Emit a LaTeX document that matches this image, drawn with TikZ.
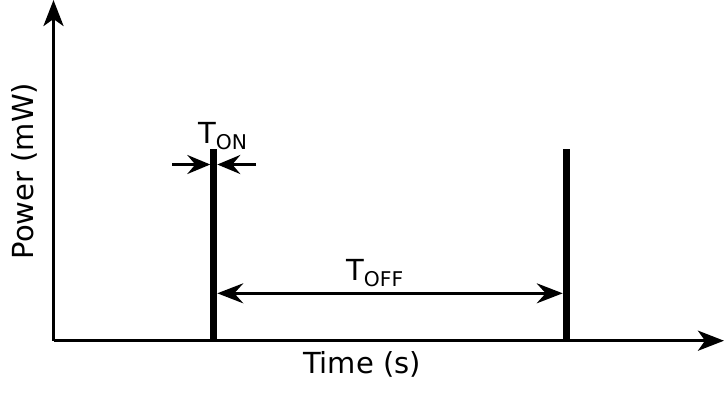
\documentclass[tikz,border=0pt]{standalone}
\usepackage{fontspec}
\setmainfont{DejaVu Sans}
\usetikzlibrary{arrows.meta}
\begin{document}
\begin{tikzpicture}[x=1bp,y=-1bp,
  axis/.style={line width=3.4bp,-{Stealth[length=26bp,width=20bp,inset=7bp]}},
  pulse/.style={line width=7bp},
  dimarrow/.style={line width=3bp,-{Stealth[length=23bp,width=19bp,inset=8bp]}},
  dimboth/.style={line width=2.8bp,{Stealth[length=26bp,width=20bp,inset=9bp]}-{Stealth[length=26bp,width=20bp,inset=9bp]}},
  lbl/.style={inner sep=0pt,font=\fontsize{29bp}{34bp}\selectfont}]
\useasboundingbox (0,0) rectangle (724,394);
\coordinate (O) at (53.5,340.7);
\coordinate (Xend) at (724,340.7);
\coordinate (Yend) at (53.5,0);
\coordinate (p1top) at (213.8,149.3);
\coordinate (p1bot) at (213.8,340.7);
\coordinate (p2top) at (566.2,149.3);
\coordinate (p2bot) at (566.2,340.7);
\coordinate (onL) at (172,164.5);
\coordinate (onLt) at (210.3,164.5);
\coordinate (onR) at (256,164.5);
\coordinate (onRt) at (217.3,164.5);
\coordinate (offL) at (217.3,293.3);
\coordinate (offR) at (562.7,293.3);
\draw[pulse] (p1bot) -- (p1top);
\draw[pulse] (p2bot) -- (p2top);
\draw[axis] (O) -- (Xend);
\draw[axis] (O) -- (Yend);
\draw[dimarrow] (onL) -- (onLt);
\draw[dimarrow] (onR) -- (onRt);
\draw[dimboth] (offL) -- (offR);
\node[lbl,anchor=base west] (ton) at (198,143) {T\textsubscript{ON}};
\node[lbl,anchor=base west] (toff) at (346,280) {T\textsubscript{OFF}};
\node[lbl] (xlab) at (362,364) {Time (s)};
\node[lbl,rotate=90] (ylab) at (24,171) {Power (mW)};
\end{tikzpicture}
\end{document}
